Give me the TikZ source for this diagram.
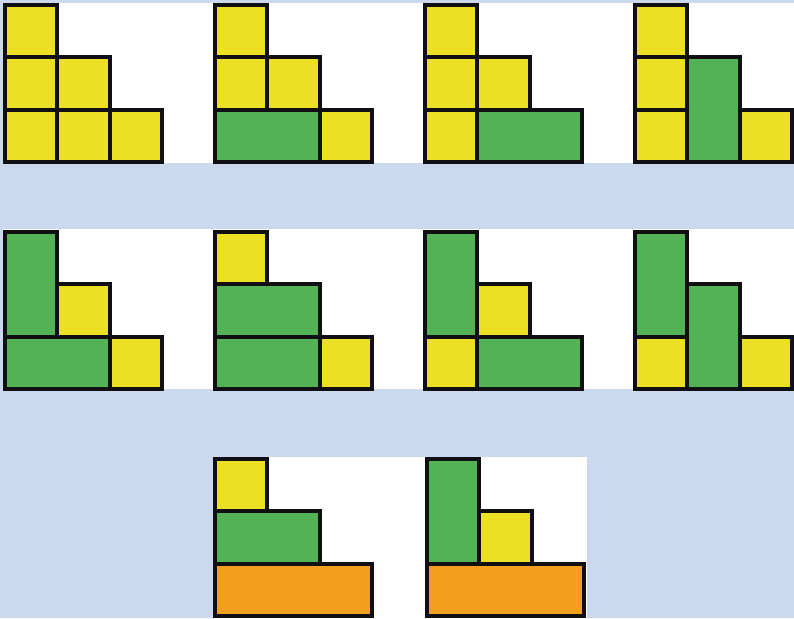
\documentclass[tikz,border=0pt]{standalone}
\definecolor{bgblue}{HTML}{CBD8EE}
\definecolor{ylw}{HTML}{EBE024}
\definecolor{grn}{HTML}{53B156}
\definecolor{org}{HTML}{F29F1F}
\definecolor{edge}{HTML}{101014}
\newcommand\tile[7]{% panel x0, y0, col, row, w, h, colour
  \fill[#7] ({#1+#3*52.3},{#2+#4*52.3}) rectangle ++({#5*52.3},{#6*52.3});
  \draw[tileedge] ({#1+#3*52.3},{#2+#4*52.3}) rectangle ++({#5*52.3},{#6*52.3});}
\tikzset{tileedge/.style={draw=edge,line width=4pt,line join=miter}}
\begin{document}
\begin{tikzpicture}[x=1pt,y=-1pt]
\fill[bgblue] (0,0) rectangle (794,618);
\useasboundingbox (0,0) rectangle (794,618);
\fill[white] (3,3) rectangle (794,163);
\fill[white] (3,229) rectangle (794,389);
\fill[white] (213,457) rectangle (587,618);
% Panel A
\def\X{5}\def\Y{5}
\tile{\X}{\Y}{0}{0}{1}{1}{ylw}
\tile{\X}{\Y}{0}{1}{1}{1}{ylw}
\tile{\X}{\Y}{1}{1}{1}{1}{ylw}
\tile{\X}{\Y}{0}{2}{1}{1}{ylw}
\tile{\X}{\Y}{1}{2}{1}{1}{ylw}
\tile{\X}{\Y}{2}{2}{1}{1}{ylw}
% Panel B
\def\X{215}\def\Y{5}
\tile{\X}{\Y}{0}{0}{1}{1}{ylw}
\tile{\X}{\Y}{0}{1}{1}{1}{ylw}
\tile{\X}{\Y}{1}{1}{1}{1}{ylw}
\tile{\X}{\Y}{0}{2}{2}{1}{grn}
\tile{\X}{\Y}{2}{2}{1}{1}{ylw}
% Panel C
\def\X{425}\def\Y{5}
\tile{\X}{\Y}{0}{0}{1}{1}{ylw}
\tile{\X}{\Y}{0}{1}{1}{1}{ylw}
\tile{\X}{\Y}{1}{1}{1}{1}{ylw}
\tile{\X}{\Y}{0}{2}{1}{1}{ylw}
\tile{\X}{\Y}{1}{2}{2}{1}{grn}
% Panel D
\def\X{635}\def\Y{5}
\tile{\X}{\Y}{0}{0}{1}{1}{ylw}
\tile{\X}{\Y}{0}{1}{1}{1}{ylw}
\tile{\X}{\Y}{0}{2}{1}{1}{ylw}
\tile{\X}{\Y}{1}{1}{1}{2}{grn}
\tile{\X}{\Y}{2}{2}{1}{1}{ylw}
% Panel E
\def\X{5}\def\Y{232}
\tile{\X}{\Y}{0}{0}{1}{2}{grn}
\tile{\X}{\Y}{1}{1}{1}{1}{ylw}
\tile{\X}{\Y}{0}{2}{2}{1}{grn}
\tile{\X}{\Y}{2}{2}{1}{1}{ylw}
% Panel F
\def\X{215}\def\Y{232}
\tile{\X}{\Y}{0}{0}{1}{1}{ylw}
\tile{\X}{\Y}{0}{1}{2}{1}{grn}
\tile{\X}{\Y}{0}{2}{2}{1}{grn}
\tile{\X}{\Y}{2}{2}{1}{1}{ylw}
% Panel G
\def\X{425}\def\Y{232}
\tile{\X}{\Y}{0}{0}{1}{2}{grn}
\tile{\X}{\Y}{1}{1}{1}{1}{ylw}
\tile{\X}{\Y}{0}{2}{1}{1}{ylw}
\tile{\X}{\Y}{1}{2}{2}{1}{grn}
% Panel H
\def\X{635}\def\Y{232}
\tile{\X}{\Y}{0}{0}{1}{2}{grn}
\tile{\X}{\Y}{0}{2}{1}{1}{ylw}
\tile{\X}{\Y}{1}{1}{1}{2}{grn}
\tile{\X}{\Y}{2}{2}{1}{1}{ylw}
% Panel I
\def\X{215}\def\Y{459}
\tile{\X}{\Y}{0}{0}{1}{1}{ylw}
\tile{\X}{\Y}{0}{1}{2}{1}{grn}
\tile{\X}{\Y}{0}{2}{3}{1}{org}
% Panel J
\def\X{427}\def\Y{459}
\tile{\X}{\Y}{0}{0}{1}{2}{grn}
\tile{\X}{\Y}{1}{1}{1}{1}{ylw}
\tile{\X}{\Y}{0}{2}{3}{1}{org}
\end{tikzpicture}
\end{document}
